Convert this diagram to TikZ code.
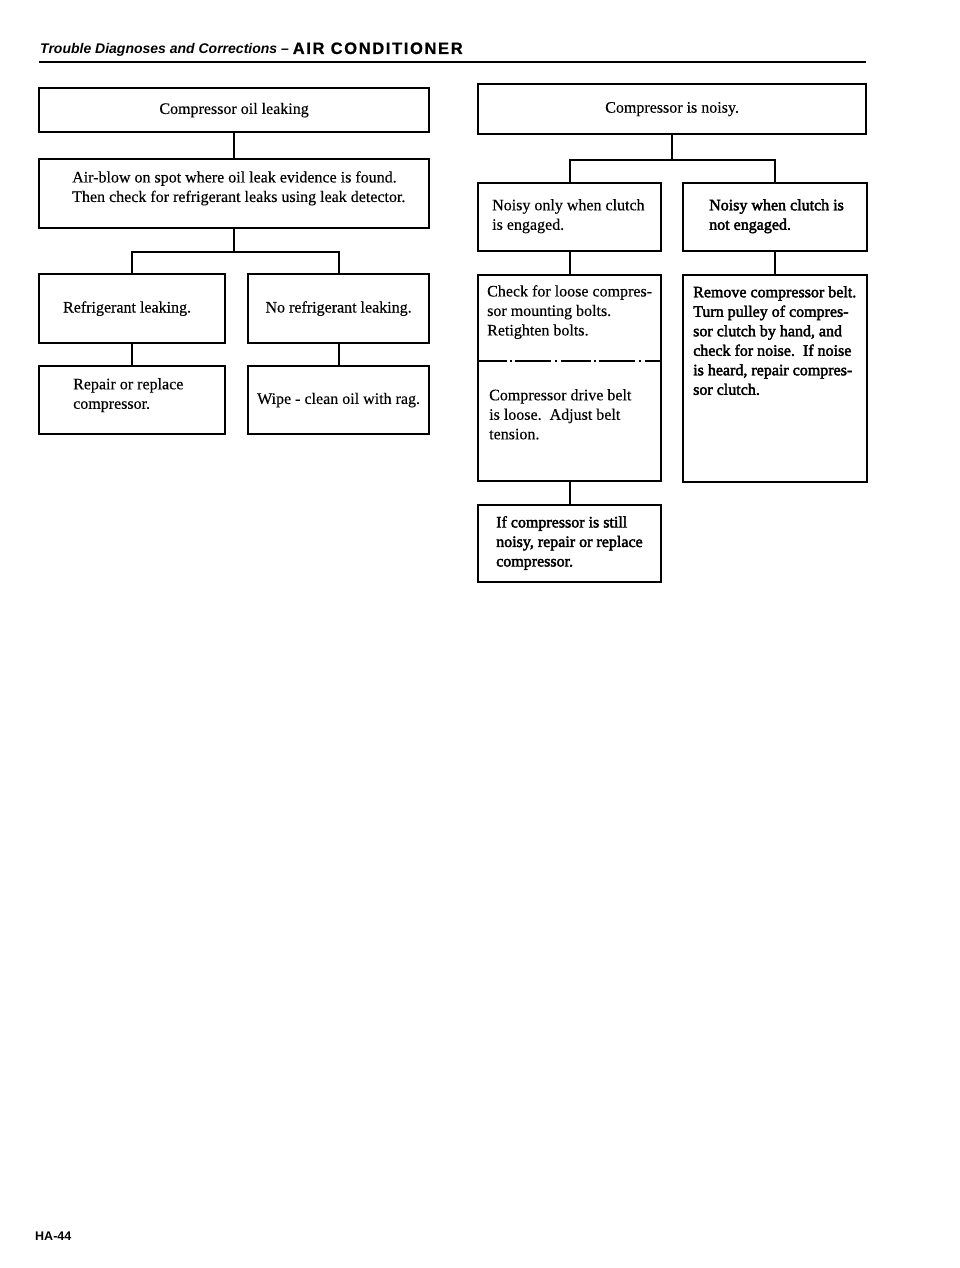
\documentclass[tikz,border=0pt]{standalone}
\usepackage{fontspec}
\setmainfont{Liberation Serif}[FakeBold=0.3]
\setsansfont{Liberation Sans}
\newfontfamily\heavyserif{Liberation Serif}[FakeBold=2.4]
\newfontfamily\hdrbold{Liberation Sans Bold}[LetterSpace=10,FakeBold=0.8]
\newcommand\txtfont{\fontsize{16}{19.5}\selectfont}
\newcommand\txtheavy{\heavyserif\fontsize{16}{19.5}\selectfont}
\begin{document}
\begin{tikzpicture}[x=1pt,y=-1pt,
  box/.style={draw, line width=2.2pt, inner sep=0pt, anchor=north west},
  conn/.style={line width=2.2pt},
  txt/.style={inner sep=0pt, anchor=north west, align=left, font=\txtfont},
  txth/.style={inner sep=0pt, anchor=north west, align=left, font=\txtheavy},
  ctxt/.style={inner sep=0pt, font=\txtfont},
  dashpat/.style={line width=1.8pt, dash pattern=on 30pt off 3pt on 2pt off 3pt on 36pt off 4pt on 2pt off 4pt}]
\useasboundingbox (0,0) rectangle (960,1268);
% header
\node[anchor=base west, inner sep=0pt] (hdr) at (40,54)
  {\sffamily\bfseries\itshape\fontsize{14}{14}\selectfont Trouble Diagnoses and Corrections -- {\hdrbold\mdseries\upshape\fontsize{16.5}{16.5}\selectfont AIR CONDITIONER}};
\draw[line width=2.7pt] (39,62) -- (866,62);
% left column
\node[box, minimum width=390pt, minimum height=44pt] (L1) at (38,87) {};
\node[box, minimum width=390pt, minimum height=69pt] (L2) at (38,158) {};
\node[box, minimum width=186pt, minimum height=69pt] (L3) at (38,273) {};
\node[box, minimum width=181pt, minimum height=69pt] (L4) at (247,273) {};
\node[box, minimum width=186pt, minimum height=68pt] (L5) at (38,365) {};
\node[box, minimum width=181pt, minimum height=68pt] (L6) at (247,365) {};
\node[ctxt] (t1) at (L1.center) {Compressor oil leaking};
\node[txt] (t2) at (72,171) {Air-blow on spot where oil leak evidence is found.\\Then check for refrigerant leaks using leak detector.};
\node[ctxt] (t3) at ([xshift=-5pt]L3.center) {Refrigerant leaking.};
\node[ctxt] (t4) at (L4.center) {No refrigerant leaking.};
\node[txt] (t5) at (73,378) {Repair or replace\\compressor.};
\node[ctxt] (t6) at (L6.center) {Wipe - clean oil with rag.};
\draw[conn] (L1.south) -- (L2.north);
\draw[conn] (L2.south) -- ++(0,23) -| (L3.north);
\draw[conn] (L2.south) -- ++(0,23) -| (L4.north);
\draw[conn] (L3.south) -- (L5.north);
\draw[conn] (L4.south) -- (L6.north);
% right column
\node[box, minimum width=388pt, minimum height=50pt] (R1) at (477,83) {};
\node[box, minimum width=183pt, minimum height=68pt] (R2) at (477,182) {};
\node[box, minimum width=184pt, minimum height=68pt] (R3) at (682,182) {};
\node[box, minimum width=183pt, minimum height=206pt] (R4) at (477,274) {};
\node[box, minimum width=184pt, minimum height=207pt] (R5) at (682,274) {};
\node[box, minimum width=183pt, minimum height=77pt] (R6) at (477,504) {};
\node[ctxt] (u1) at (R1.center) {Compressor is noisy.};
\node[txt] (u2) at (492,199) {Noisy only when clutch\\is engaged.};
\node[txth] (u3) at (709,199) {Noisy when clutch is\\not engaged.};
\node[txt] (u4) at (487,285) {Check for loose compres-\\sor mounting bolts.\\Retighten bolts.};
\draw[dashpat] ([yshift=-87pt]R4.north west) -- ([yshift=-87pt]R4.north east);
\node[txt] (u5) at (489,389) {Compressor drive belt\\is loose.\ \ Adjust belt\\tension.};
\node[txth] (u6) at (693,286) {Remove compressor belt.\\Turn pulley of compres-\\sor clutch by hand, and\\check for noise.\ \ If noise\\is heard, repair compres-\\sor clutch.};
\node[txth] (u7) at (496,516) {If compressor is still\\noisy, repair or replace\\compressor.};
\draw[conn] (R1.south) -- ++(0,25) -| (R2.north);
\draw[conn] (R1.south) -- ++(0,25) -| (R3.north);
\draw[conn] (R2.south) -- (R4.north);
\draw[conn] (R3.south) -- (R5.north);
\draw[conn] (R4.south) -- (R6.north);
% footer
\node[anchor=base west, inner sep=0pt] (ftr) at (35,1240)
  {\sffamily\bfseries\fontsize{12.5}{12.5}\selectfont HA-44};
\end{tikzpicture}
\end{document}
